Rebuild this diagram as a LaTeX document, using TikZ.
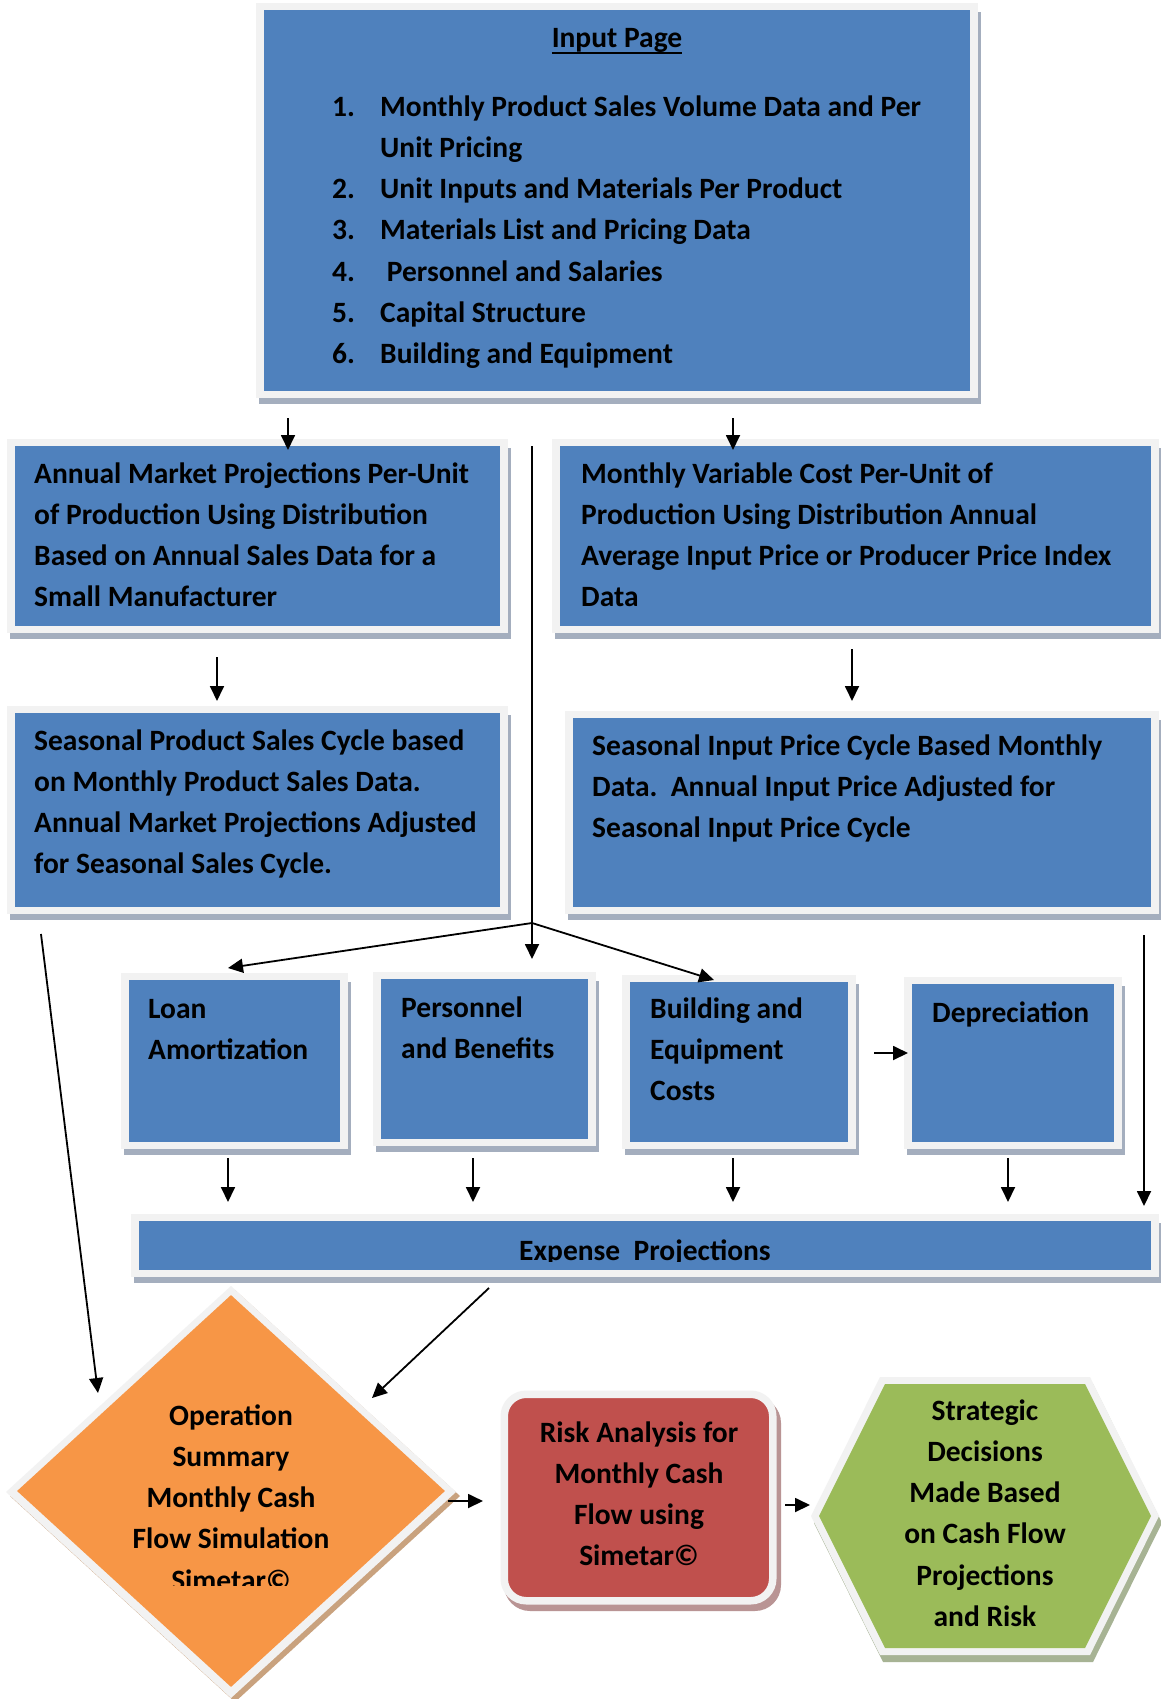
\documentclass[tikz,border=0pt]{standalone}
\usepackage{fontspec}
\setmainfont{Carlito}
\usetikzlibrary{arrows.meta,shapes.geometric}
\definecolor{blueF}{HTML}{4F81BD}
\definecolor{bord}{HTML}{F2F2F2}
\definecolor{shB}{HTML}{A4AEBE}
\definecolor{orF}{HTML}{F79646}
\definecolor{shO}{HTML}{C9A27E}
\definecolor{redF}{HTML}{C0504D}
\definecolor{shR}{HTML}{B99494}
\definecolor{grF}{HTML}{9BBB59}
\definecolor{shG}{HTML}{A7B394}
\newcommand\bodyfont{\fontsize{29.5}{41.2}\selectfont\bfseries}
\newcommand\myul[1]{\setbox0\hbox{#1}\rlap{\rule[-6pt]{\wd0}{2pt}}\box0}
% name, x1, y1, x2, y2 of the blue interior
\newcommand\mkbox[5]{%
  \fill[shB] (#2-5,#3+2) rectangle (#4+11,#5+13);
  \fill[bord] (#2-8,#3-7) rectangle (#4+8,#5+7);
  \node[bluebox, anchor=north west, minimum width=#4-#2, minimum height=#5-#3] (#1) at (#2,#3) {};
}
\begin{document}
\begin{tikzpicture}[x=1pt,y=-1pt,
  bluebox/.style={fill=blueF, inner sep=0, outer sep=0},
  tl/.style={anchor=north west, inner sep=0, align=left, font=\bodyfont, text=black},
  tc/.style={anchor=north, inner sep=0, align=center, font=\bodyfont, text=black},
  ln/.style={line width=1.8pt, draw=black},
  arr/.style={ln, -{Triangle[length=15pt,width=14pt]}},
]
\useasboundingbox (0,0) rectangle (1160,1699);
\fill[white] (0,0) rectangle (1160,1699);

% ---- rectangular boxes
\mkbox{inp}{264}{10}{970}{391}
\mkbox{A}{15}{446}{500}{626}
\mkbox{B}{560}{446}{1151}{626}
\mkbox{C}{15}{713}{500}{907}
\mkbox{D}{573}{718}{1151}{907}
\mkbox{loan}{129}{980}{340}{1142}
\mkbox{pers}{381}{979}{588}{1139}
\mkbox{bld}{630}{982}{848}{1142}
\mkbox{dep}{912}{984}{1114}{1142}
\mkbox{exp}{139}{1221}{1151}{1270}

% ---- diamond
\fill[shO] (235,1290) -- (460,1496) -- (235,1702) -- (10,1496) -- cycle;
\fill[bord] (231,1286) -- (456,1492) -- (231,1698) -- (6,1492) -- cycle;
\node[diamond, fill=orF, inner sep=0, minimum width=428, minimum height=392] (dia) at (231,1491) {};

% ---- rounded red box
\fill[shR, rounded corners=26] (504,1397) rectangle (781,1611);
\node[draw=bord, line width=7.5pt, fill=redF, rounded corners=22, minimum width=268.5, minimum height=206.5, inner sep=0] (red) at (638.5,1497.5) {};

% ---- hexagon
\fill[shG] (814,1523) -- (883,1384) -- (1093,1384) -- (1162,1523) -- (1093,1662) -- (883,1662) -- cycle;
\fill[bord] (811,1516) -- (880,1377) -- (1090,1377) -- (1159,1516) -- (1090,1655) -- (880,1655) -- cycle;
\fill[grF] (819,1516) -- (885,1384) -- (1085,1384) -- (1151,1516) -- (1085,1648) -- (885,1648) -- cycle;

% ---- texts
\node[font=\bodyfont, inner sep=0, anchor=base] (ttl) at (617,48) {\myul{Input Page}};
\node[tl] (lst) at (332,87.16) {\strut\makebox[48pt][l]{1.}Monthly Product Sales Volume Data and Per\\
\hspace*{48pt}Unit Pricing\\
\makebox[48pt][l]{2.}Unit Inputs and Materials Per Product\\
\makebox[48pt][l]{3.}Materials List and Pricing Data\\
\makebox[48pt][l]{4.}\ Personnel and Salaries\\
\makebox[48pt][l]{5.}Capital Structure\\
\makebox[48pt][l]{6.}Building and Equipment};
\node[tl] (tA) at (34,454.16) {\strut Annual Market Projections Per-Unit\\of Production Using Distribution\\Based on Annual Sales Data for a\\Small Manufacturer};
\node[tl] (tB) at (581,454.16) {\strut Monthly Variable Cost Per-Unit of\\Production Using Distribution Annual\\Average Input Price or Producer Price Index\\Data};
\node[tl] (tC) at (34,721.16) {\strut Seasonal Product Sales Cycle based\\on Monthly Product Sales Data.\\Annual Market Projections Adjusted\\for Seasonal Sales Cycle.};
\node[tl] (tD) at (592,726.16) {\strut Seasonal Input Price Cycle Based Monthly\\Data.\ \ Annual Input Price Adjusted for\\Seasonal Input Price Cycle};
\node[tl] (tLoan) at (148,989.16) {\strut Loan\\Amortization};
\node[tl] (tPers) at (401,988.16) {\strut Personnel\\and Benefits};
\node[tl] (tBld) at (650,989.16) {\strut Building and\\Equipment\\Costs};
\node[tl] (tDep) at (932,993.16) {\strut Depreciation};
\begin{scope}
\clip (0,0) rectangle (1160,1261.5);
\node[font=\bodyfont, inner sep=0, anchor=base] (tExp) at (645,1260) {Expense\ \ Projections};
\end{scope}
\begin{scope}
\clip (0,0) rectangle (1160,1585.5);
\node[tc] (tDia) at (231,1396.16) {\strut Operation\\Summary\\Monthly Cash\\Flow Simulation\\Simetar©};
\end{scope}
\node[tc] (tRed) at (639,1413.16) {\strut Risk Analysis for\\Monthly Cash\\Flow using\\Simetar©};
\node[tc] (tHex) at (985,1391.16) {\strut Strategic\\Decisions\\Made Based\\on Cash Flow\\Projections\\and Risk};

% ---- connectors
\coordinate (ca) at (288,0);
\coordinate (cb) at (733,0);
\coordinate (cc) at (217,0);
\coordinate (cd) at (852,0);
\coordinate (jn) at (532,923);
\coordinate (tipLoan) at (228,968);
\coordinate (tipBld) at (714,980);
\coordinate (xl) at (228,0);
\coordinate (xp) at (473,0);
\coordinate (xb) at (733,0);
\coordinate (xd) at (1008,0);
\coordinate (yb) at (0,1053);
\coordinate (xr) at (1144,0);
\coordinate (sC) at (41,934);
\coordinate (tipDiaL) at (98,1393);
\coordinate (sExp) at (489,1288);
\coordinate (tipDiaR) at (372,1398);
\coordinate (sDia) at (448,1501);
\coordinate (tipRed) at (483,1501);
\coordinate (sRed) at (785,1505);
\coordinate (tipHex) at (810,1505);

\draw[arr, shorten <=27pt, shorten >=-4pt] (inp.south -| ca) -- (A.north -| ca);
\draw[arr, shorten <=27pt, shorten >=-4pt] (inp.south -| cb) -- (B.north -| cb);
\draw[arr, shorten <=31pt, shorten >=12pt] (A.south -| cc) -- (C.north -| cc);
\draw[arr, shorten <=23pt, shorten >=17pt] (B.south -| cd) -- (D.north -| cd);
\draw[ln] (A.north -| jn) -- (jn);
\draw[arr, shorten >=20pt] (jn) -- (pers.north -| jn);
\draw[arr] (jn) -- (tipLoan);
\draw[arr] (jn) -- (tipBld);
\draw[arr, shorten <=16pt, shorten >=19pt] (loan.south -| xl) -- (exp.north -| xl);
\draw[arr, shorten <=19pt, shorten >=19pt] (pers.south -| xp) -- (exp.north -| xp);
\draw[arr, shorten <=16pt, shorten >=19pt] (bld.south -| xb) -- (exp.north -| xb);
\draw[arr, shorten <=16pt, shorten >=19pt] (dep.south -| xd) -- (exp.north -| xd);
\draw[arr, shorten <=26pt, shorten >=4pt] (bld.east |- yb) -- (dep.west |- yb);
\draw[arr, shorten <=28pt, shorten >=15pt] (D.south -| xr) -- (exp.north -| xr);
\draw[arr] (sC) -- (tipDiaL);
\draw[arr] (sExp) -- (tipDiaR);
\draw[arr] (sDia) -- (tipRed);
\draw[arr] (sRed) -- (tipHex);
\end{tikzpicture}
\end{document}
